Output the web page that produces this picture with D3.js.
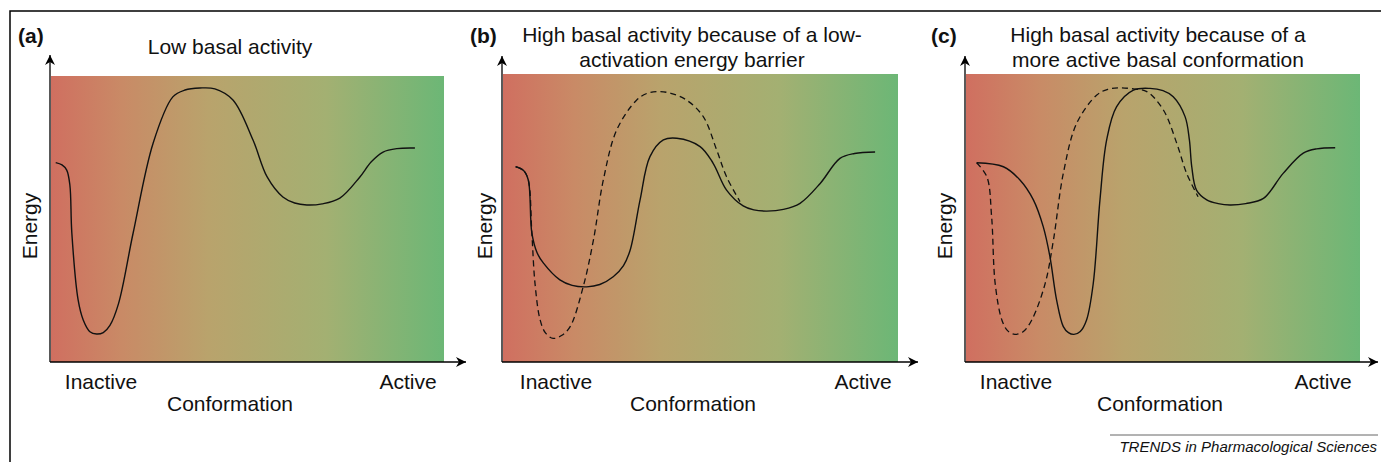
<!DOCTYPE html>
<html>
<head>
<meta charset="utf-8">
<script src="https://cdn.jsdelivr.net/npm/d3@7"></script>
<style>
  body { margin: 0; background: #fff; }
  text { font-family: "Liberation Sans", Arial, Helvetica, sans-serif; fill: #111; }
</style>
</head>
<body>
<script>
// conformation (0 = inactive, 100 = active) vs energy (0 = bottom, 100 = top)
var curveA = [[1.2,69.7],[2.8,68.9],[4.0,67.1],[4.8,61.9],[5.3,45.1],[6.9,21.7],[8.2,14.7],
  [9.9,10.6],[11.6,9.8],[13.3,10.3],[15.0,12.8],[17.2,20.5],[20.9,45.1],
  [26.0,76.6],[31.0,92.7],[34.1,95.1],[37.9,95.8],[41.7,95.5],[46.3,91.6],[51.4,77.6],
  [55.0,64.7],[59.0,57.7],[62.0,55.6],[65.1,54.9],[69.0,55.3],[73.5,57.3],[78.6,64.7],
  [81.5,70.0],[84.5,73.4],[88.0,74.6],[92.6,74.8]];

var curveB = [[3.2,67.8],[5.2,66.5],[6.4,63.2],[7.3,44.8],[8.6,38.0],[10.2,34.4],[14.4,28.5],
  [17.5,26.6],[21.2,26.1],[24.5,26.9],[27.9,29.6],[30.5,33.5],[32.2,38.9],[34.7,56.3],
  [37.2,71.3],[40.6,77.1],[44.0,77.7],[49.9,74.8],[53.2,69.0],[56.6,59.7],[60.8,54.2],
  [63.5,52.8],[66.8,52.4],[71.0,53.0],[75.2,55.1],[80.3,62.0],[85.3,70.7],[89.0,72.4],
  [94.2,72.9]];

var curveBDashed = [[3.2,67.8],[5.2,66.5],[6.4,63.2],[7.3,44.8],[8.1,27.3],[9.4,14.6],[10.8,10.0],
  [12.7,8.2],[14.8,9.2],[17.0,12.3],[20.3,26.1],[22.9,42.4],[25.4,63.2],[28.8,80.6],
  [33.8,90.9],[36.5,93.3],[39.3,93.9],[42.5,93.3],[46.5,90.9],[50.7,85.2],[54.1,73.6],
  [56.6,64.3],[60.0,55.7]];

var curveC = [[2.7,69.2],[9.5,67.8],[13.7,63.2],[17.1,56.3],[19.6,47.0],[21.3,36.6],[23.0,21.5],
  [24.7,12.3],[26.0,10.2],[27.4,9.6],[29.0,10.6],[30.6,14.6],[32.3,27.3],[34.0,56.3],
  [35.7,77.1],[38.2,88.6],[42.5,94.4],[46.7,95.0],[50.0,94.2],[52.6,92.1],[55.6,85.2],
  [56.7,77.1],[57.3,67.8],[58.5,59.7],[61.1,56.3],[64.0,55.0],[67.0,54.5],[71.0,55.0],
  [75.5,56.8],[80.5,65.5],[85.6,72.5],[89.0,74.0],[93.7,74.4]];

var curveCDashed = [[2.7,69.2],[5.3,64.3],[6.5,50.5],[7.4,27.3],[9.1,14.6],[10.6,10.8],[12.4,9.6],
  [14.5,10.5],[16.7,14.6],[20.1,27.3],[22.2,42.4],[24.7,65.5],[28.1,82.9],[33.2,92.7],
  [36.0,94.7],[39.1,95.2],[42.5,94.8],[45.9,93.9],[50.1,87.5],[53.5,75.9],[56.0,65.5],
  [58.9,57.4]];

var panelLetters = ["(a)", "(b)", "(c)"];
var panelTitles = [["Low basal activity"],
  ["High basal activity because of a low-", "activation energy barrier"],
  ["High basal activity because of a", "more active basal conformation"]];
var xLabels = ["Inactive", "Active"];

var panels = [
  {left: 51, right: 444, top: 76, letterX: 18, titleX: 230, energyX: 37, xTip: 466, yTip: 55,
   inactX: 101, actX: 408, confX: 230, solid: curveA, dashed: null},
  {left: 503, right: 898, top: 74, letterX: 470, titleX: 692, energyX: 492, xTip: 918, yTip: 56,
   inactX: 556, actX: 863, confX: 693, solid: curveB, dashed: curveBDashed},
  {left: 966, right: 1360, top: 74, letterX: 931, titleX: 1158, energyX: 952, xTip: 1378, yTip: 56,
   inactX: 1016, actX: 1323, confX: 1160, solid: curveC, dashed: curveCDashed}
];
var bottom = 362;

var svg = d3.select("body").append("svg")
    .attr("width", 1381)
    .attr("height", 462);

var defs = svg.append("defs");
var grad = defs.append("linearGradient").attr("id", "bg")
    .attr("x1", 0).attr("x2", 1).attr("y1", 0).attr("y2", 0);
[[0, "#d06f60"], [0.18, "#c98a66"], [0.4, "#b9a36c"], [0.7, "#a3b072"], [1, "#6cb776"]]
  .forEach(function(s) {
    grad.append("stop").attr("offset", s[0]).attr("stop-color", s[1]);
  });

defs.append("marker").attr("id", "arrow")
    .attr("viewBox", "0 0 10 10").attr("refX", 10).attr("refY", 5)
    .attr("markerWidth", 14).attr("markerHeight", 10)
    .attr("markerUnits", "userSpaceOnUse")
    .attr("orient", "auto")
  .append("path").attr("d", "M0,0 L10,5 L0,10 L3,5 Z").attr("fill", "#000");

//frame
svg.append("path").attr("d", "M10,462 L10,11 L1381,11")
    .attr("fill", "none").attr("stroke", "#000").attr("stroke-width", 1.5);

panels.forEach(function(p, i) {
  var g = svg.append("g");
  var x = d3.scaleLinear().domain([0, 100]).range([p.left, p.right]);
  var y = d3.scaleLinear().domain([0, 100]).range([bottom, p.top]);

  g.append("rect")
    .attr("x", x(0)).attr("y", y(100))
    .attr("width", x(100) - x(0)).attr("height", y(0) - y(100))
    .attr("fill", "url(#bg)");

  //axes
  g.append("line").attr("x1", x(0) - 1).attr("y1", bottom).attr("x2", x(0) - 1).attr("y2", p.yTip)
    .attr("stroke", "#000").attr("stroke-width", 1.3).attr("marker-end", "url(#arrow)");
  g.append("line").attr("x1", x(0) - 1).attr("y1", bottom).attr("x2", p.xTip).attr("y2", bottom)
    .attr("stroke", "#000").attr("stroke-width", 1.3).attr("marker-end", "url(#arrow)");

  var line = d3.line()
    .x(function(d) { return x(d[0]); })
    .y(function(d) { return y(d[1]); })
    .curve(d3.curveCatmullRom.alpha(0.5));

  if (p.dashed) {
    g.append("path").attr("d", line(p.dashed))
      .attr("fill", "none").attr("stroke", "#111").attr("stroke-width", 1.3)
      .attr("stroke-dasharray", "6,4");
  }
  g.append("path").attr("d", line(p.solid))
    .attr("fill", "none").attr("stroke", "#111").attr("stroke-width", 1.4);

  //texts
  g.append("text").attr("x", p.letterX).attr("y", 43)
    .attr("font-size", 21).attr("font-weight", "bold").text(panelLetters[i]);

  var t = panelTitles[i];
  t.forEach(function(s, j) {
    g.append("text").attr("x", p.titleX)
      .attr("y", t.length == 1 ? 54 : 42 + j * 25)
      .attr("text-anchor", "middle").attr("font-size", 21).text(s);
  });

  g.append("text").attr("transform", "translate(" + p.energyX + ",226) rotate(-90)")
    .attr("text-anchor", "middle").attr("font-size", 21).text("Energy");
  g.append("text").attr("x", p.inactX).attr("y", 389)
    .attr("text-anchor", "middle").attr("font-size", 21).text(xLabels[0]);
  g.append("text").attr("x", p.actX).attr("y", 389)
    .attr("text-anchor", "middle").attr("font-size", 21).text(xLabels[1]);
  g.append("text").attr("x", p.confX).attr("y", 411)
    .attr("text-anchor", "middle").attr("font-size", 21).text("Conformation");
});

svg.append("line").attr("x1", 1110).attr("x2", 1378).attr("y1", 435).attr("y2", 435)
    .attr("stroke", "#666").attr("stroke-width", 1);
svg.append("text").attr("x", 1377).attr("y", 452)
    .attr("text-anchor", "end").attr("font-size", 15).attr("font-style", "italic")
    .text("TRENDS in Pharmacological Sciences");
</script>
</body>
</html>
